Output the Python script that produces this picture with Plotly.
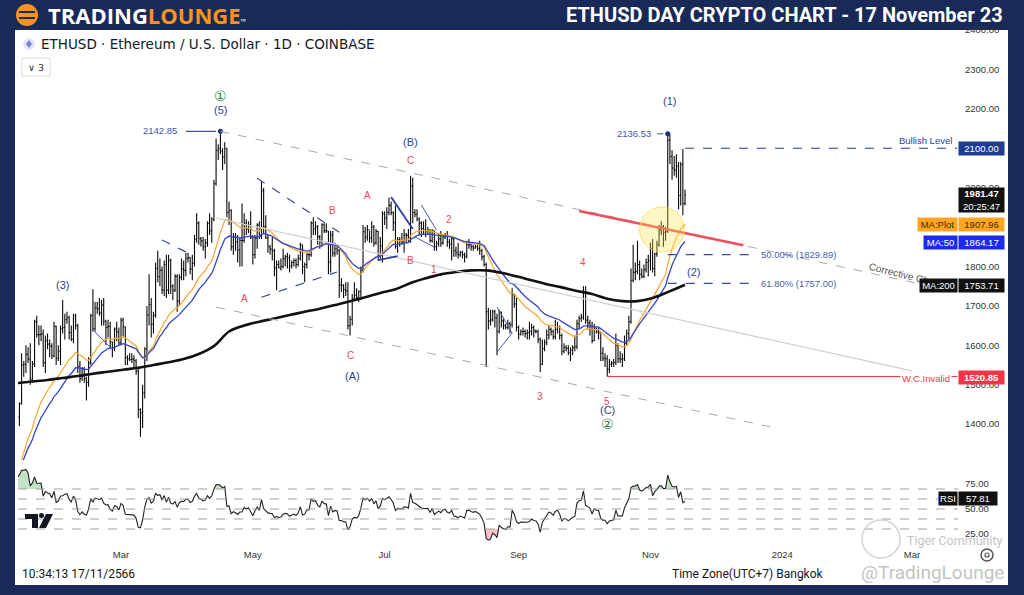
import numpy as np
import pandas as pd
import plotly.graph_objects as go

W, H = 1024, 595

# ---------------- data (daily ETHUSD, Coinbase) ----------------
# closes before the visible window (used to warm up the indicators)
warmup_close = [1320, 1309, 1266, 1167, 1187, 1185, 1167, 1217, 1211, 1218,
                1219, 1220, 1218, 1226, 1212, 1190, 1200, 1199, 1196, 1200,
                1214, 1214, 1256, 1251, 1269, 1264, 1288, 1321, 1336, 1385]

# (high, low, close) per day
jan = [(1435,1375,1418),(1455,1395,1452),(1580,1450,1550),(1560,1520,1552),(1600,1530,1577),
       (1595,1555,1565),(1605,1500,1514),(1560,1505,1553),(1665,1545,1660),(1675,1620,1627),
       (1650,1600,1627),(1650,1610,1629),(1640,1545,1556),(1625,1530,1612),(1630,1590,1603),
       (1615,1570,1598),(1605,1565,1573),(1660,1570,1648),(1650,1550,1567),(1600,1560,1585)]
feb = [(1650,1550,1642),(1715,1630,1645),(1680,1615,1665),(1685,1655,1670),(1675,1615,1632),
       (1650,1610,1615),(1680,1605,1675),(1680,1640,1650),(1655,1530,1547),(1560,1505,1515),
       (1545,1510,1540),(1545,1505,1515),(1520,1460,1506),(1570,1495,1556),(1680,1550,1675),
       (1742,1635,1642),(1710,1635,1695),(1710,1680,1692),(1720,1675,1682),(1715,1650,1702),
       (1720,1650,1661),(1665,1600,1645),(1665,1620,1648),(1660,1590,1609),(1610,1570,1594),
       (1645,1585,1641),(1660,1610,1634),(1645,1600,1606)]
mar = [(1670,1600,1664),(1670,1620,1647),(1648,1550,1569),(1575,1550,1566),(1580,1560,1564),
       (1580,1555,1565),(1575,1540,1561),(1565,1525,1534),(1545,1415,1437),(1440,1368,1429),
       (1500,1390,1479),(1595,1465,1591),(1700,1560,1677),(1780,1650,1703),(1720,1620,1653),
       (1685,1630,1676),(1810,1670,1795),(1840,1760,1774),(1820,1750,1790),(1800,1730,1740),
       (1815,1725,1805),(1830,1720,1740),(1830,1730,1815),(1820,1730,1750),(1755,1715,1740),
       (1780,1735,1775),(1780,1685,1712),(1780,1700,1773),(1820,1765,1794),(1815,1765,1790),
       (1835,1775,1821)]
apr = [(1835,1810,1822),(1825,1780,1794),(1830,1765,1808),(1880,1800,1869),(1935,1860,1910),
       (1915,1855,1871),(1875,1850,1865),(1875,1840,1850),(1870,1820,1860),(1915,1850,1910),
       (1935,1880,1891),(1925,1860,1920),(2020,1915,2010),(2125,2005,2095),(2110,2070,2100),
       (2142.85,2085,2093),(2100,2045,2078),(2115,2060,2100),(2100,1925,1937),(1965,1905,1942),
       (1945,1840,1850),(1885,1830,1875),(1885,1840,1862),(1880,1810,1842),(1875,1800,1866),
       (1960,1800,1866),(1935,1860,1910),(1920,1880,1894),(1915,1885,1905),(1940,1870,1873)]
may = [(1880,1805,1830),(1880,1820,1872),(1910,1845,1905),(1915,1870,1876),(2015,1870,1992),
       (2000,1885,1901),(1930,1870,1873),(1880,1835,1850),(1855,1830,1844),(1875,1815,1840),
       (1845,1775,1797),(1815,1740,1805),(1815,1795,1796),(1820,1790,1800),(1845,1795,1820),
       (1830,1800,1825),(1835,1795,1822),(1830,1785,1802),(1815,1795,1810),(1820,1800,1815),
       (1820,1795,1805),(1830,1800,1820),(1860,1815,1855),(1855,1780,1800),(1810,1760,1805),
       (1835,1795,1830),(1835,1815,1830),(1915,1825,1910),(1925,1880,1895),(1915,1880,1900),
       (1905,1855,1875)]
jun = [(1880,1845,1863),(1910,1850,1906),(1910,1885,1891),(1910,1885,1890),(1890,1780,1811),
       (1890,1785,1880),(1890,1825,1834),(1860,1825,1845),(1855,1830,1840),(1845,1720,1753),
       (1770,1735,1752),(1755,1720,1741),(1760,1725,1738),(1760,1640,1650),(1675,1625,1666),
       (1730,1650,1718),(1760,1715,1727),(1745,1715,1721),(1740,1710,1736),(1800,1715,1790),
       (1905,1785,1888),(1900,1860,1874),(1905,1865,1893),(1890,1860,1872),(1915,1860,1900),
       (1905,1850,1860),(1895,1855,1889),(1890,1815,1827),(1875,1820,1852),(1940,1810,1933)]
jul = [(1940,1905,1923),(1950,1895,1937),(1975,1930,1955),(1965,1930,1937),(1940,1890,1911),
       (1955,1845,1851),(1875,1835,1868),(1875,1850,1866),(1885,1855,1862),(1895,1835,1880),
       (1885,1860,1879),(1895,1860,1872),(2030,1860,2005),(2025,1910,1937),(1945,1925,1932),
       (1945,1915,1920),(1925,1880,1910),(1915,1875,1896),(1915,1880,1893),(1920,1875,1890),
       (1900,1880,1892),(1895,1860,1866),(1895,1860,1891),(1890,1840,1850),(1865,1840,1859),
       (1885,1850,1870),(1890,1850,1860),(1880,1855,1875),(1885,1870,1880),(1890,1850,1862),
       (1870,1845,1857)]
aug = [(1875,1815,1870),(1875,1825,1840),(1850,1825,1835),(1860,1820,1830),(1840,1825,1836),
       (1840,1820,1830),(1835,1810,1826),(1865,1820,1855),(1870,1845,1855),(1860,1840,1850),
       (1855,1840,1847),(1855,1845,1850),(1855,1840,1845),(1865,1830,1840),(1845,1815,1825),
       (1830,1800,1805),(1810,1545,1685),(1695,1640,1662),(1690,1650,1665),(1690,1660,1685),
       (1690,1645,1670),(1680,1575,1635),(1690,1630,1685),(1685,1645,1662),(1670,1640,1650),
       (1655,1640,1645),(1665,1640,1655),(1660,1630,1652),(1745,1645,1730),(1730,1695,1705),
       (1720,1635,1645)]
sep = [(1650,1615,1628),(1640,1625,1635),(1645,1625,1635),(1640,1620,1630),(1640,1615,1632),
       (1660,1615,1635),(1655,1625,1645),(1650,1620,1636),(1640,1630,1635),(1640,1605,1615),
       (1620,1532,1552),(1615,1550,1592),(1615,1585,1607),(1640,1600,1626),(1650,1615,1640),
       (1645,1625,1635),(1640,1615,1622),(1665,1615,1640),(1660,1630,1645),(1650,1615,1625),
       (1630,1575,1585),(1605,1580,1595),(1600,1585,1592),(1600,1575,1581),(1595,1560,1588),
       (1600,1575,1594),(1625,1585,1597),(1665,1590,1655),(1675,1640,1668),(1680,1660,1671)]
octo = [(1750,1665,1734),(1750,1655,1664),(1675,1640,1657),(1665,1625,1647),(1660,1605,1612),
        (1655,1610,1644),(1645,1630,1634),(1645,1615,1632),(1630,1560,1580),(1595,1560,1567),
        (1580,1545,1566),(1575,1521,1539),(1565,1530,1552),(1560,1545,1555),(1565,1545,1557),
        (1630,1550,1600),(1605,1555,1566),(1585,1555,1565),(1580,1545,1566),(1625,1560,1605),
        (1640,1600,1630),(1675,1615,1660),(1795,1655,1765),(1855,1760,1785),(1810,1765,1787),
        (1865,1780,1805),(1815,1765,1780),(1795,1770,1775),(1805,1770,1792),(1820,1785,1810),
        (1830,1775,1815)]
nov = [(1860,1790,1845),(1870,1785,1795),(1835,1775,1832),(1865,1825,1855),(1905,1850,1893),
       (1915,1880,1900),(1905,1850,1887),(1900,1865,1889),(2136.53,1885,2120),(2135,2060,2079),
       (2095,2020,2050),(2080,2030,2045),(2085,2025,2055),(2065,1945,1980),(2065,1955,2058),
       (2098,1930,1960),(1995,1955,1981.47)]

# 200-period MA (weekly samples + last bar)
ma200_values = [1504, 1508, 1512, 1517, 1522, 1528, 1533, 1538, 1543, 1550, 1557, 1565,
                1578, 1598, 1635, 1650, 1660, 1668, 1677, 1685, 1693, 1702, 1712, 1722,
                1733, 1742, 1758, 1770, 1780, 1786, 1790, 1790, 1784, 1775, 1765, 1755,
                1747, 1738, 1730, 1718, 1712, 1712, 1720, 1735, 1753.71]

month_tick_dates = ["2023-03-01", "2023-05-01", "2023-07-01", "2023-09-01",
                    "2023-11-01", "2024-01-01", "2024-03-01"]
month_tick_text = ["Mar", "May", "Jul", "Sep", "Nov", "2024", "Mar"]
price_ticks = [1400, 1500, 1600, 1700, 1800, 1900, 2000, 2100, 2200, 2300, 2400]
rsi_ticks = [25, 50, 75]
rsi_levels = [30, 40, 50, 60, 70]

# ---------------- assemble ----------------
months = [("2023-01-12", jan), ("2023-02-01", feb), ("2023-03-01", mar), ("2023-04-01", apr),
          ("2023-05-01", may), ("2023-06-01", jun), ("2023-07-01", jul), ("2023-08-01", aug),
          ("2023-09-01", sep), ("2023-10-01", octo), ("2023-11-01", nov)]
dates, highs, lows, closes = [], [], [], []
for start, rows in months:
    dates += list(pd.date_range(start, periods=len(rows), freq="D"))
    for h, l, c in rows:
        highs.append(h); lows.append(l); closes.append(c)
opens = [warmup_close[-1]] + closes[:-1]

warm_dates = list(pd.date_range(end="2023-01-11", periods=len(warmup_close), freq="D"))
all_close = pd.Series(warmup_close + closes, index=warm_dates + dates)
ma_plot = all_close.ewm(span=25, adjust=False).mean()
ma_50 = all_close.ewm(span=35, adjust=False).mean()
delta = all_close.diff().fillna(0)
gain = delta.clip(lower=0).ewm(alpha=1/14, adjust=False).mean()
loss = (-delta.clip(upper=0)).ewm(alpha=1/14, adjust=False).mean()
rsi = 100 - 100 / (1 + gain / loss)
rsi = rsi[rsi.index >= pd.Timestamp("2023-01-12")]

ma200_dates = list(pd.date_range("2023-01-12", "2023-11-09", freq="7D")) + [pd.Timestamp("2023-11-17")]

# axis geometry (pixel layout of the screenshot)
PX_PER_DAY = 2.161
MAR1 = pd.Timestamp("2023-03-01")
x_start = MAR1 - pd.Timedelta(days=(121 - 18) / PX_PER_DAY)
x_end = MAR1 + pd.Timedelta(days=(958 - 121) / PX_PER_DAY)

def fx(x): return x / W
def fy(y): return 1 - y / H

NAVY = "#1a2a58"
BLUE_TXT = "#2e4591"
RED_TXT = "#ec4b5b"
GREEN = "#2e7d3a"

fig = go.Figure()
fig.add_trace(go.Ohlc(x=dates, open=opens, high=highs, low=lows, close=closes,
                      increasing=dict(line=dict(color="#0a0a0a", width=1.1)),
                      decreasing=dict(line=dict(color="#0a0a0a", width=1.1)),
                      tickwidth=0.45, xaxis="x", yaxis="y", hoverinfo="skip"))
fig.add_trace(go.Scatter(x=ma_plot.index, y=ma_plot.values, mode="lines",
                         line=dict(color="#f3a72c", width=1.2), xaxis="x", yaxis="y"))
fig.add_trace(go.Scatter(x=ma_50.index, y=ma_50.values, mode="lines",
                         line=dict(color="#3444cc", width=1.3), xaxis="x", yaxis="y"))
fig.add_trace(go.Scatter(x=ma200_dates, y=ma200_values, mode="lines", line_shape="spline",
                         line=dict(color="#111", width=2.6), xaxis="x", yaxis="y"))
fig.add_trace(go.Scatter(x=[pd.Timestamp("2023-04-16"), pd.Timestamp("2023-11-09")],
                         y=[2142.85, 2136.53], mode="markers",
                         marker=dict(color="#1f2f7a", size=5), xaxis="x", yaxis="y"))

# RSI pane
r_idx = rsi.index
fig.add_trace(go.Scatter(x=r_idx, y=[70] * len(r_idx), mode="lines", line=dict(width=0),
                         xaxis="x2", yaxis="y2"))
fig.add_trace(go.Scatter(x=r_idx, y=np.maximum(rsi.values, 70), mode="lines", line=dict(width=0),
                         fill="tonexty", fillcolor="rgba(76,175,80,0.35)", xaxis="x2", yaxis="y2"))
fig.add_trace(go.Scatter(x=r_idx, y=[30] * len(r_idx), mode="lines", line=dict(width=0),
                         xaxis="x2", yaxis="y2"))
fig.add_trace(go.Scatter(x=r_idx, y=np.minimum(rsi.values, 30), mode="lines", line=dict(width=0),
                         fill="tonexty", fillcolor="rgba(242,54,69,0.3)", xaxis="x2", yaxis="y2"))
fig.add_trace(go.Scatter(x=r_idx, y=rsi.values, mode="lines", line=dict(color="#222", width=1.1),
                         xaxis="x2", yaxis="y2"))

shapes = []
# white canvas
shapes.append(dict(type="rect", xref="paper", yref="paper", x0=fx(15), x1=fx(1008), y0=fy(585), y1=fy(30),
                   fillcolor="white", line=dict(width=0), layer="below"))

def dline(x0, y0, x1, y1, color, width=1, dash="solid"):
    shapes.append(dict(type="line", xref="x", yref="y", x0=x0, y0=y0, x1=x1, y1=y1,
                       line=dict(color=color, width=width, dash=dash)))

# channel / trend lines
dline("2023-04-16", 2142.85, "2024-03-22", 1735, "#a9a9a9", 1, "dash")
dline("2023-04-14", 1697, "2023-12-29", 1390, "#a9a9a9", 1, "dash")
dline("2023-04-14", 1923, "2024-03-01", 1535, "#d0d0d0", 1.2)
dline("2023-09-29", 1941, "2023-12-14", 1854, "#f04e5e", 2.5)
# blue dashed wedges
dline("2023-05-03", 2024, "2023-06-10", 1887, "#3b4c96", 1.2, "dash")
dline("2023-05-05", 1722, "2023-06-09", 1786, "#3b4c96", 1.2, "dash")
dline("2023-03-20", 1867, "2023-03-31", 1837, "#3b4c96", 1.2, "dash")
# small solid blue structures
dline("2023-06-28", 1816, "2023-07-07", 1826, "#2c3f9a", 1.8)
dline("2023-07-04", 1976, "2023-07-14", 1895, "#2c3f9a", 1.8)
dline("2023-07-18", 1956, "2023-07-25", 1892, "#4a5bb0", 1)
dline("2023-07-15", 1875, "2023-07-24", 1849, "#4a5bb0", 1)
dline("2023-08-22", 1697, "2023-08-29", 1631, "#4a5bb0", 1)
dline("2023-08-29", 1631, "2023-08-22", 1583, "#4a5bb0", 1)
dline("2023-02-16", 1639, "2023-02-24", 1595, "#4a5bb0", 1)
# price markers
dline("2023-03-31", 2142.85, "2023-04-14", 2142.85, "#3b4c96", 1.2)
dline("2023-11-04", 2136.53, "2023-11-07", 2136.53, "#3b4c96", 1, "dash")
# fibs & levels
dline("2023-11-09", 1829.89, "2023-12-17", 1829.89, "#3b4c96", 1.2, "dash")
dline("2023-11-09", 1757.00, "2023-12-17", 1757.00, "#3b4c96", 1.2, "dash")
dline("2023-11-17", 2100, "2024-03-22", 2100, "#2b3a7a", 1, "dash")
dline("2023-10-12", 1520.85, "2024-03-22", 1520.85, "#f23645", 1)
# highlight circle
shapes.append(dict(type="circle", xref="x", yref="y", x0="2023-10-27", x1="2023-11-16 16:00",
                   y0=1836.6, y1=1950.8, fillcolor="rgba(255,228,80,0.33)",
                   line=dict(color="rgba(245,215,70,0.7)", width=1)))
# RSI levels
for lv in rsi_levels:
    shapes.append(dict(type="line", xref="x2 domain", yref="y2", x0=0, x1=1, y0=lv, y1=lv,
                       line=dict(color="#a0a0a0", width=1, dash="dash")))

def pshape(kind, x0, y0, x1, y1, **kw):
    shapes.append(dict(type=kind, xref="paper", yref="paper", x0=fx(x0), x1=fx(x1),
                       y0=fy(y1), y1=fy(y0), **kw))

# header logo mark
pshape("circle", 16, 4, 38, 26, fillcolor="#f7941d", line=dict(width=0))
pshape("rect", 19, 11, 35, 13, fillcolor=NAVY, line=dict(width=0))
pshape("rect", 19, 17, 35, 19, fillcolor=NAVY, line=dict(width=0))
# eth icon & interval box
pshape("circle", 23, 38, 35, 50, fillcolor="#e2e5f7", line=dict(width=0))
shapes.append(dict(type="path", xref="paper", yref="paper",
                   path=f"M {fx(29)},{fy(40)} L {fx(32)},{fy(44)} L {fx(29)},{fy(48)} L {fx(26)},{fy(44)} Z",
                   fillcolor="#7a86d8", line=dict(width=0)))
pshape("rect", 22, 58, 50, 76, fillcolor="white", line=dict(color="#dcdcdc", width=1))
# TradingView logo in RSI pane
pshape("rect", 25, 514, 38, 519, fillcolor="#131722", line=dict(width=0))
pshape("rect", 32, 514, 38, 528, fillcolor="#131722", line=dict(width=0))
pshape("circle", 39, 513, 44, 518, fillcolor="#131722", line=dict(width=0))
shapes.append(dict(type="path", xref="paper", yref="paper",
                   path=f"M {fx(46)},{fy(514)} L {fx(53)},{fy(514)} L {fx(46)},{fy(528)} L {fx(39)},{fy(528)} Z",
                   fillcolor="#131722", line=dict(width=0)))
# gear icon and tiger logo
pshape("circle", 981, 549, 993, 561, fillcolor="white", line=dict(color="#555", width=1.5))
pshape("circle", 985, 553, 989, 557, fillcolor="white", line=dict(color="#555", width=1.2))
pshape("circle", 862, 520, 900, 558, fillcolor="rgba(0,0,0,0)", line=dict(color="#d4d4d4", width=1.5))

ann = []

def dtext(x, y, text, color, size=10, xanchor="center", family="Liberation Sans"):
    ann.append(dict(xref="x", yref="y", x=x, y=y, text=text, showarrow=False, xanchor=xanchor,
                    yanchor="middle", font=dict(color=color, size=size, family=family)))

def ptext(x, y, text, color, size=10, xanchor="left", family="Liberation Sans", **kw):
    ann.append(dict(xref="paper", yref="paper", x=fx(x), y=fy(y), text=text, showarrow=False,
                    xanchor=xanchor, yanchor="middle", font=dict(color=color, size=size, family=family), **kw))

# wave labels
dtext("2023-04-16", 2232, "①", GREEN, 14, family="DejaVu Sans")
dtext("2023-04-16", 2197, "(5)", BLUE_TXT, 11)
dtext("2023-03-28", 2144, "2142.85", "#3f56a6", 9.5, xanchor="right")
dtext("2023-02-02", 1753, "(3)", BLUE_TXT, 11)
dtext("2023-07-13", 2116, "(B)", BLUE_TXT, 11)
dtext("2023-07-13", 2070, "C", RED_TXT, 10)
dtext("2023-04-27", 1720, "A", RED_TXT, 10)
dtext("2023-06-07", 1941, "B", RED_TXT, 10)
dtext("2023-06-23", 1979, "A", RED_TXT, 10)
dtext("2023-06-15", 1575, "C", RED_TXT, 10)
dtext("2023-06-16", 1522, "(A)", BLUE_TXT, 11)
dtext("2023-07-31", 1918, "2", RED_TXT, 10)
dtext("2023-07-13", 1814, "B", RED_TXT, 10)
dtext("2023-07-24", 1793, "1", RED_TXT, 10)
dtext("2023-10-01", 1811, "4", RED_TXT, 10)
dtext("2023-09-11", 1469, "3", RED_TXT, 10)
dtext("2023-10-12", 1458, "5", RED_TXT, 10)
dtext("2023-10-12", 1436, "(C)", BLUE_TXT, 11)
dtext("2023-10-12", 1400, "②", GREEN, 14, family="DejaVu Sans")
dtext("2023-11-10", 2220, "(1)", BLUE_TXT, 11)
dtext("2023-11-02", 2136.53, "2136.53", "#3f56a6", 9.5, xanchor="right")
dtext("2023-11-21", 1786, "(2)", BLUE_TXT, 11)
dtext("2023-12-21", 1829.89, "50.00% (1829.89)", "#4a5fa8", 9.5, xanchor="left")
dtext("2023-12-21", 1757.00, "61.80% (1757.00)", "#4a5fa8", 9.5, xanchor="left")
ann.append(dict(xref="paper", yref="paper", x=fx(911), y=fy(276), text="Corrective Channel",
                showarrow=False, textangle=14, xanchor="center", yanchor="middle",
                font=dict(color="#555", size=10, family="Liberation Sans")))
ptext(954, 140, "Bullish Level", "#2e4591", 9.5, xanchor="right")
ptext(952, 378, "W.C.Invalid", "#f23645", 9.5, xanchor="right", bgcolor="white")

def box(xc, yc, text, bg, fg="white", w=43, h=11):
    ann.append(dict(xref="paper", yref="paper", x=fx(xc), y=fy(yc), text=text, showarrow=False,
                    bgcolor=bg, width=w, height=h, borderpad=1, xanchor="center", yanchor="middle",
                    font=dict(color=fg, size=9.5, family="Liberation Sans")))

box(981, 148, "2100.00", "#1d3d93")
box(981, 200, "<b>1981.47</b><br>20:25:47", "#111", h=22)
box(937, 224, "MA:Plot", "#ffa51f", fg="#3a2a00", w=37)
box(981, 224, "1907.96", "#ffa51f", fg="#3a2a00")
box(940, 242, "MA:50", "#1b2cf0", w=31)
box(981, 242, "1864.17", "#1b2cf0")
box(938, 285, "MA:200", "#111", w=35)
box(981, 285, "1753.71", "#111")
box(981, 377.5, "<b>1520.85</b>", "#f23645")
box(948, 498.5, "RSI", "#111", w=16)
box(978, 498.5, "57.81", "#111", w=36)

# header & chrome texts
ptext(46, 15, "<b>TRADING</b><b><span style='color:#f7941d'>LOUNGE</span></b><span style='font-size:7px'>™</span>",
      "white", 22, family="Open Sans")
ptext(1005, 15, "<b>ETHUSD DAY CRYPTO CHART - 17 November 23</b>", "white", 20,
      xanchor="right", family="Roboto")
ptext(39, 44, "ETHUSD · Ethereum / U.S. Dollar · 1D · COINBASE", "#131722", 13.5, family="DejaVu Sans")
ptext(36, 67, "∨ 3", "#333", 9.5, xanchor="center", family="DejaVu Sans")
ptext(20, 574, "10:34:13 17/11/2566", "#131722", 12, family="Roboto")
ptext(670, 574, "Time Zone(UTC+7) Bangkok", "#131722", 12, family="Roboto")
ptext(1005, 540, "Tiger Community", "#c4c4c4", 12.5, xanchor="right", family="Roboto")
ptext(1006, 572, "@TradingLounge", "#c4c4c4", 19, xanchor="right", family="Roboto")

axis_font = dict(color="#333", size=9.5, family="Liberation Sans")
fig.update_layout(
    width=W, height=H, autosize=False,
    margin=dict(l=0, r=0, t=0, b=0, pad=0),
    paper_bgcolor=NAVY, plot_bgcolor="white",
    showlegend=False,
    shapes=shapes, annotations=ann,
    xaxis=dict(domain=[fx(18), fx(958)], range=[x_start, x_end], type="date", automargin=False,
               showgrid=False, zeroline=False, showticklabels=False, rangeslider=dict(visible=False),
               matches="x2", showline=False),
    yaxis=dict(domain=[fy(460), fy(30)], range=[1309, 2400], side="right", showgrid=False,
               automargin=False,
               zeroline=False, tickvals=price_ticks, ticktext=[f"{v:.2f}" for v in price_ticks],
               tickfont=axis_font, ticks="", ticklabelstandoff=6, anchor="x"),
    xaxis2=dict(domain=[fx(18), fx(958)], range=[x_start, x_end], type="date", anchor="y2",
                automargin=False,
                showgrid=False, zeroline=False, tickvals=month_tick_dates, ticktext=month_tick_text,
                tickfont=axis_font, ticks="", ticklabelstandoff=6, showline=False),
    yaxis2=dict(domain=[fy(541), fy(466)], range=[18, 93], side="right", showgrid=False,
                automargin=False,
                zeroline=False, tickvals=rsi_ticks, ticktext=[f"{v:.2f}" for v in rsi_ticks],
                tickfont=axis_font, ticks="", ticklabelstandoff=6, anchor="x2"),
)

fig.write_html("out.html", config={"displayModeBar": False},
               post_script="document.body.style.margin='0';document.body.style.overflow='hidden';")
